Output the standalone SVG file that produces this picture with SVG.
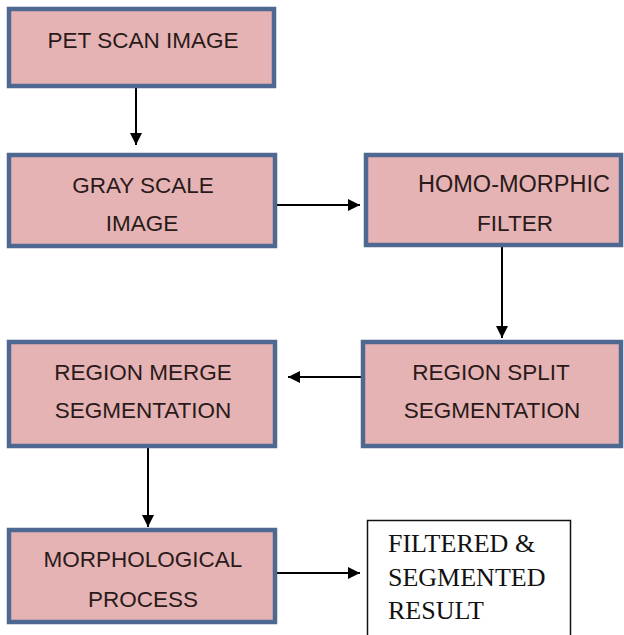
<svg xmlns="http://www.w3.org/2000/svg" width="624" height="635" viewBox="0 0 624 635">
<defs>
<style>
.box{fill:#e5b3b4;stroke:#4f6891;stroke-width:4.5}
.t{font-family:"Liberation Sans",Arial,sans-serif;font-size:22.5px;fill:#2a1a1a;text-anchor:middle}
.r{font-family:"Liberation Serif","Times New Roman",serif;font-size:26px;fill:#111}
.c{stroke:#000;stroke-width:2;fill:none}
</style>
<marker id="ah" viewBox="0 0 10 10" refX="10" refY="5" markerWidth="13" markerHeight="12" markerUnits="userSpaceOnUse" orient="auto">
<path d="M0,0 L10,5 L0,10 Z" fill="#000"/>
</marker>
</defs>
<rect width="624" height="635" fill="#fff"/>
<g id="connectors">
<line class="c" x1="136" y1="88" x2="136" y2="145" marker-end="url(#ah)"/>
<line class="c" x1="277" y1="205" x2="360" y2="205" marker-end="url(#ah)"/>
<line class="c" x1="502" y1="247" x2="502" y2="338" marker-end="url(#ah)"/>
<line class="c" x1="361" y1="377" x2="288" y2="377" marker-end="url(#ah)"/>
<line class="c" x1="148" y1="448" x2="148" y2="527" marker-end="url(#ah)"/>
<line class="c" x1="277" y1="573" x2="360" y2="573" marker-end="url(#ah)"/>
</g>
<g id="pet">
<rect class="box" x="9" y="9" width="265" height="77"/>
<text class="t" x="143" y="48">PET SCAN IMAGE</text>
</g>
<g id="gray">
<rect class="box" x="9" y="155" width="266" height="91"/>
<text class="t" x="143" y="193">GRAY SCALE</text>
<text class="t" x="142" y="231">IMAGE</text>
</g>
<g id="homo">
<rect class="box" x="366" y="155" width="255" height="90"/>
<text class="t" x="514" y="192" style="font-size:23.5px">HOMO-MORPHIC</text>
<text class="t" x="515" y="231">FILTER</text>
</g>
<g id="split">
<rect class="box" x="363" y="342" width="258" height="104"/>
<text class="t" x="491" y="380">REGION SPLIT</text>
<text class="t" x="492" y="418">SEGMENTATION</text>
</g>
<g id="merge">
<rect class="box" x="9" y="342" width="266" height="104"/>
<text class="t" x="143" y="380">REGION MERGE</text>
<text class="t" x="143" y="418">SEGMENTATION</text>
</g>
<g id="morph">
<rect class="box" x="9" y="530" width="266" height="92"/>
<text class="t" x="143" y="567">MORPHOLOGICAL</text>
<text class="t" x="143" y="607">PROCESS</text>
</g>
<g id="result">
<rect x="367.5" y="520.5" width="203" height="130" fill="#fff" stroke="#111" stroke-width="1.5"/>
<text class="r" x="388" y="552">FILTERED &amp;</text>
<text class="r" x="388" y="586">SEGMENTED</text>
<text class="r" x="388" y="619">RESULT</text>
</g>
</svg>
